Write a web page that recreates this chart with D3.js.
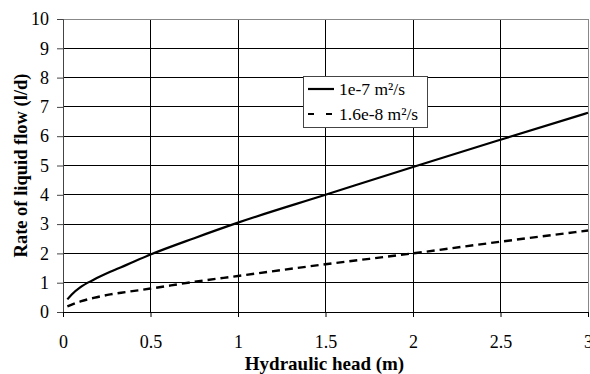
<!DOCTYPE html>
<html>
<head>
<meta charset="utf-8">
<script src="https://cdn.jsdelivr.net/npm/d3@7"></script>
<style>
  body { margin: 0; background: #fff; }
</style>
</head>
<body>
<div id="chart"></div>
<script>
// values
const headValues = [0.025, 0.05, 0.1, 0.175, 0.27, 0.36, 0.5, 0.75, 1, 1.5, 2, 2.5, 3];
const flowHigh = [0.43, 0.6, 0.85, 1.1, 1.37, 1.6, 1.96, 2.52, 3.05, 4.0, 4.95, 5.88, 6.8];
const flowLow = [0.19, 0.25, 0.36, 0.48, 0.6, 0.68, 0.8, 1.03, 1.23, 1.63, 2.0, 2.4, 2.78];
const seriesNames = ['1e-7 m²/s', '1.6e-8 m²/s'];
const xTicks = [0, 0.5, 1, 1.5, 2, 2.5, 3];
const yTicks = [0, 1, 2, 3, 4, 5, 6, 7, 8, 9, 10];

const FONT = '"Liberation Serif", "Times New Roman", serif';
const W = 590, H = 374;
const margin = { top: 19, right: 2, bottom: 62, left: 63 };
const width = W - margin.left - margin.right;
const height = H - margin.top - margin.bottom;

const svg = d3.select('#chart').append('svg')
  .attr('width', W).attr('height', H)
  .style('font-family', FONT);
const g = svg.append('g').attr('transform', `translate(${margin.left},${margin.top})`);

const x = d3.scaleLinear().domain([0, 3]).range([0, width]);
const y = d3.scaleLinear().domain([0, 10]).range([height, 0]);

// grid
g.append('g')
  .selectAll('line').data(yTicks.filter(d => d > 0 && d < 10)).enter().append('line')
  .attr('x1', 0).attr('x2', width)
  .attr('y1', d => y(d)).attr('y2', d => y(d))
  .attr('stroke', '#000').attr('stroke-width', 1).attr('shape-rendering', 'crispEdges');
g.append('g')
  .selectAll('line').data(xTicks.filter(d => d > 0 && d < 3)).enter().append('line')
  .attr('y1', 0).attr('y2', height)
  .attr('x1', d => x(d)).attr('x2', d => x(d))
  .attr('stroke', '#000').attr('stroke-width', 1).attr('shape-rendering', 'crispEdges');

// plot frame: top + right gray
g.append('line').attr('x1', 0).attr('x2', width).attr('y1', 0).attr('y2', 0)
  .attr('stroke', '#888').attr('shape-rendering', 'crispEdges');
g.append('line').attr('x1', width).attr('x2', width).attr('y1', 0).attr('y2', height)
  .attr('stroke', '#888').attr('shape-rendering', 'crispEdges');

// axes
g.append('g')
  .call(d3.axisLeft(y).tickValues(yTicks).tickSize(6).tickPadding(8).tickFormat(d3.format('d')))
  .call(a => a.select('.domain').attr('stroke', '#444'))
  .call(a => a.selectAll('.tick line').attr('stroke', '#444'))
  .call(a => a.selectAll('text').style('font-family', FONT)
    .style('font-size', '18px').attr('fill', '#000'));

g.append('g')
  .attr('transform', `translate(0,${height})`)
  .call(d3.axisBottom(x).tickValues(xTicks).tickSize(5).tickPadding(18).tickFormat(d => String(d)))
  .call(a => a.select('.domain').attr('stroke', '#000'))
  .call(a => a.selectAll('.tick line').attr('stroke', '#000'))
  .call(a => a.selectAll('text').style('font-family', FONT)
    .style('font-size', '18px').attr('fill', '#000'));

// curves
const line = d3.line()
  .x(d => x(d[0]))
  .y(d => y(d[1]))
  .curve(d3.curveMonotoneX);

g.append('path')
  .datum(headValues.map((h, i) => [h, flowHigh[i]]))
  .attr('fill', 'none').attr('stroke', '#000').attr('stroke-width', 2.2)
  .attr('d', line);

g.append('path')
  .datum(headValues.map((h, i) => [h, flowLow[i]]))
  .attr('fill', 'none').attr('stroke', '#000').attr('stroke-width', 2.4)
  .attr('stroke-dasharray', '8,5')
  .attr('d', line);

// legend
const lg = svg.append('g').attr('transform', 'translate(303,76)');
lg.append('rect').attr('width', 124).attr('height', 51)
  .attr('fill', '#fff').attr('stroke', '#444').attr('shape-rendering', 'crispEdges');
seriesNames.forEach((name, i) => {
  const yy = 13 + i * 25;
  lg.append('line').attr('x1', 5).attr('x2', 31).attr('y1', yy).attr('y2', yy)
    .attr('stroke', '#000').attr('stroke-width', 2.2)
    .attr('stroke-dasharray', i === 1 ? '6,12' : null);
  lg.append('text').attr('x', 36).attr('y', yy + 6)
    .style('font-family', FONT).style('font-size', '17.5px').text(name);
});

// axis titles
svg.append('text')
  .attr('x', margin.left + width / 2 - 1).attr('y', 370)
  .attr('text-anchor', 'middle').attr('font-weight', 'bold')
  .style('font-family', FONT).style('font-size', '19px').text('Hydraulic head (m)');

svg.append('text')
  .attr('transform', `translate(27,${margin.top + height / 2}) rotate(-90)`)
  .attr('text-anchor', 'middle').attr('font-weight', 'bold')
  .style('font-family', FONT).style('font-size', '18.5px').text('Rate of liquid flow (l/d)');
</script>
</body>
</html>
